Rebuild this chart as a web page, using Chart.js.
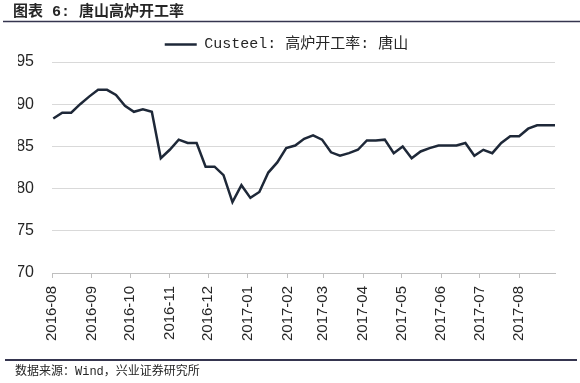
<!DOCTYPE html>
<html>
<head>
<meta charset="utf-8">
<script src="https://cdn.jsdelivr.net/npm/chart.js@4"></script>
<style>
  html, body { margin: 0; padding: 0; background: #fff; }
</style>
</head>
<body>
<canvas id="chart" width="580" height="383"></canvas>
<script>
// Weekly readings, Custeel blast furnace operating rate, Tangshan (%)
const weekDates = [
  '2016-08-02', '2016-08-09', '2016-08-16', '2016-08-23', '2016-08-30',
  '2016-09-06', '2016-09-13', '2016-09-20', '2016-09-27',
  '2016-10-04', '2016-10-11', '2016-10-18', '2016-10-25',
  '2016-11-01', '2016-11-08', '2016-11-15', '2016-11-22', '2016-11-29',
  '2016-12-06', '2016-12-13', '2016-12-20', '2016-12-27',
  '2017-01-03', '2017-01-10', '2017-01-17', '2017-01-24', '2017-01-31',
  '2017-02-07', '2017-02-14', '2017-02-21', '2017-02-28',
  '2017-03-07', '2017-03-14', '2017-03-21', '2017-03-28',
  '2017-04-04', '2017-04-11', '2017-04-18', '2017-04-25',
  '2017-05-02', '2017-05-09', '2017-05-16', '2017-05-23', '2017-05-30',
  '2017-06-06', '2017-06-13', '2017-06-20', '2017-06-27',
  '2017-07-04', '2017-07-11', '2017-07-18', '2017-07-25',
  '2017-08-01', '2017-08-08', '2017-08-15', '2017-08-22', '2017-08-29'
];
const rateValues = [
  88.3, 89.0, 89.0, 90.0, 90.9, 91.7, 91.7, 91.1, 89.8, 89.1, 89.4, 89.1,
  83.6, 84.6, 85.8, 85.4, 85.4, 82.6, 82.6, 81.6, 78.4, 80.4, 78.9, 79.6,
  81.9, 83.1, 84.8, 85.1, 85.9, 86.3, 85.8, 84.3, 83.9, 84.2, 84.6, 85.7,
  85.7, 85.8, 84.2, 85.0, 83.6, 84.4, 84.8, 85.1, 85.1, 85.1, 85.4, 83.9,
  84.6, 84.2, 85.4, 86.2, 86.2, 87.1, 87.5, 87.5, 87.5
];
const monthTicks = [
  '2016-08', '2016-09', '2016-10', '2016-11', '2016-12', '2017-01', '2017-02',
  '2017-03', '2017-04', '2017-05', '2017-06', '2017-07', '2017-08'
];
const yTicks = [70, 75, 80, 85, 90, 95];

const seriesName = 'Custeel: 高炉开工率: 唐山';
const lineColor = '#1e2838';
const textColor = '#262626';
const cjkFont = '"Liberation Mono", "Noto Sans CJK SC", monospace';

// days since the first month tick, used as the x position
const DAY = 86400000;
const originTime = Date.parse(monthTicks[0] + '-01');
function dayOffset(dateStr) {
  return (Date.parse(dateStr) - originTime) / DAY;
}

const points = weekDates.map((d, i) => ({ x: dayOffset(d), y: rateValues[i] }));
const monthOffsets = monthTicks.map(m => dayOffset(m + '-01'));

// Title, rules and source note around the chart
const frameDecor = {
  id: 'frameDecor',
  afterDraw(chart) {
    const ctx = chart.ctx;
    ctx.save();
    ctx.fillStyle = textColor;
    ctx.textBaseline = 'middle';
    ctx.font = 'bold 15px ' + cjkFont;
    ctx.fillText('图表 6: 唐山高炉开工率', 13, 12);

    ctx.strokeStyle = '#35354f';
    ctx.lineWidth = 1.5;
    ctx.beginPath();
    ctx.moveTo(3, 21.5);
    ctx.lineTo(580, 21.5);
    ctx.stroke();

    ctx.lineWidth = 2;
    ctx.beginPath();
    ctx.moveTo(5, 360);
    ctx.lineTo(577, 360);
    ctx.stroke();

    ctx.font = '12px ' + cjkFont;
    ctx.fillText('数据来源：Wind，兴业证券研究所', 15, 372);
    ctx.restore();
  }
};

new Chart(document.getElementById('chart'), {
  type: 'line',
  data: {
    datasets: [{
      label: seriesName,
      data: points,
      borderColor: lineColor,
      backgroundColor: lineColor,
      borderWidth: 2.5,
      pointRadius: 0,
      tension: 0,
      fill: false
    }]
  },
  options: {
    responsive: false,
    animation: false,
    layout: { padding: { top: 27, left: 18, right: 25, bottom: 0 } },
    plugins: {
      legend: {
        position: 'top',
        labels: {
          usePointStyle: true,
          pointStyle: 'line',
          pointStyleWidth: 32,
          padding: 10,
          color: textColor,
          font: { family: cjkFont, size: 15 }
        }
      },
      tooltip: { enabled: false }
    },
    scales: {
      x: {
        type: 'linear',
        min: 0,
        max: dayOffset(weekDates[weekDates.length - 1]),
        afterBuildTicks: axis => {
          axis.ticks = monthOffsets.map(v => ({ value: v }));
        },
        afterFit: axis => { axis.height = 110; },
        ticks: {
          autoSkip: false,
          minRotation: 90,
          maxRotation: 90,
          padding: 8,
          color: textColor,
          font: { family: '"Liberation Sans", Arial, sans-serif', size: 15 },
          callback: value => monthTicks[monthOffsets.indexOf(value)] || ''
        },
        grid: { drawOnChartArea: false, tickLength: 5, color: '#bfbfbf' },
        border: { color: '#bfbfbf' }
      },
      y: {
        min: yTicks[0],
        max: yTicks[yTicks.length - 1],
        afterBuildTicks: axis => {
          axis.ticks = yTicks.map(v => ({ value: v }));
        },
        afterFit: axis => { axis.width = 34; },
        ticks: {
          padding: 18,
          color: textColor,
          font: { family: '"Liberation Sans", Arial, sans-serif', size: 16 }
        },
        grid: { color: '#d9d9d9', drawTicks: false },
        border: { display: false }
      }
    }
  },
  plugins: [frameDecor]
});
</script>
</body>
</html>
